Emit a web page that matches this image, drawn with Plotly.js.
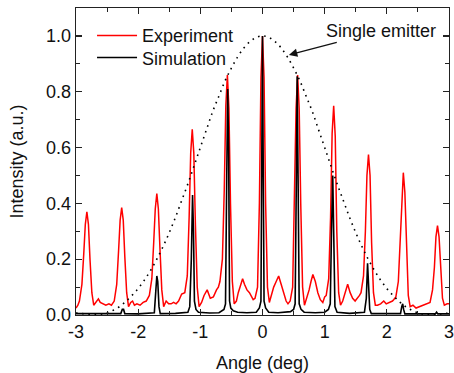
<!DOCTYPE html>
<html>
<head>
<meta charset="utf-8">
<script src="https://cdn.plot.ly/plotly-3.0.1.min.js"></script>
<style>
  html, body { margin: 0; padding: 0; background: #fff; }
  #chart { width: 454px; height: 373px; }
</style>
</head>
<body>
<div id="chart"></div>
<script>
// Measured far-field intensity (red)
const expAngle = [
  -3.00, -2.97,
  -2.945, -2.905, -2.875, -2.85, -2.825, -2.80, -2.775, -2.745, -2.715,
  -2.68, -2.64, -2.61, -2.57, -2.52, -2.47, -2.43,
  -2.385, -2.345, -2.315, -2.29, -2.265, -2.24, -2.215, -2.185, -2.155,
  -2.12, -2.09, -2.06, -2.02, -1.97, -1.92, -1.87,
  -1.82, -1.78, -1.75, -1.725, -1.70, -1.675, -1.65, -1.62, -1.59,
  -1.55, -1.51, -1.47, -1.43, -1.39, -1.35, -1.30,
  -1.25, -1.21, -1.18, -1.155, -1.13, -1.105, -1.08, -1.05, -1.02,
  -0.98, -0.94, -0.89, -0.84, -0.79, -0.74, -0.71,
  -0.685, -0.645, -0.615, -0.59, -0.565, -0.54, -0.515, -0.485, -0.455,
  -0.42, -0.39, -0.35, -0.32, -0.29, -0.25, -0.21, -0.17, -0.15,
  -0.12, -0.08, -0.05, -0.025, 0.00, 0.025, 0.05, 0.08, 0.11,
  0.14, 0.18, 0.22, 0.26, 0.30, 0.34, 0.38, 0.41,
  0.445, 0.485, 0.515, 0.54, 0.565, 0.59, 0.615, 0.645, 0.675,
  0.71, 0.75, 0.78, 0.81, 0.85, 0.89, 0.93, 0.97, 1.00,
  1.025, 1.065, 1.095, 1.12, 1.145, 1.17, 1.195, 1.225, 1.255,
  1.29, 1.33, 1.37, 1.41, 1.45, 1.49, 1.53, 1.56,
  1.585, 1.625, 1.655, 1.68, 1.705, 1.73, 1.755, 1.785, 1.815,
  1.85, 1.90, 1.95, 1.99, 2.04, 2.09, 2.11,
  2.145, 2.185, 2.215, 2.24, 2.265, 2.29, 2.315, 2.345, 2.375,
  2.42, 2.47, 2.53, 2.58, 2.63, 2.66,
  2.695, 2.735, 2.765, 2.79, 2.815, 2.84, 2.865, 2.895, 2.925,
  2.97, 3.00
];
const expIntensity = [
  0.025, 0.035,
  0.05, 0.11, 0.22, 0.325, 0.37, 0.325, 0.20, 0.08, 0.035,
  0.045, 0.058, 0.045, 0.04, 0.035, 0.04, 0.035,
  0.05, 0.11, 0.23, 0.34, 0.385, 0.34, 0.21, 0.08, 0.03,
  0.045, 0.05, 0.035, 0.04, 0.035, 0.045, 0.05,
  0.07, 0.13, 0.26, 0.38, 0.435, 0.38, 0.24, 0.09, 0.03,
  0.05, 0.04, 0.04, 0.045, 0.04, 0.05, 0.075,
  0.08, 0.14, 0.35, 0.58, 0.665, 0.58, 0.33, 0.10, 0.03,
  0.045, 0.07, 0.09, 0.06, 0.065, 0.09, 0.10,
  0.12, 0.20, 0.45, 0.75, 0.86, 0.74, 0.40, 0.12, 0.04,
  0.05, 0.08, 0.11, 0.13, 0.11, 0.09, 0.08, 0.065, 0.055,
  0.06, 0.10, 0.40, 0.85, 1.00, 0.85, 0.40, 0.10, 0.045,
  0.07, 0.10, 0.12, 0.14, 0.11, 0.08, 0.05, 0.04,
  0.05, 0.10, 0.40, 0.74, 0.86, 0.74, 0.40, 0.10, 0.035,
  0.06, 0.09, 0.12, 0.145, 0.12, 0.08, 0.055, 0.045, 0.065,
  0.07, 0.13, 0.35, 0.65, 0.75, 0.64, 0.30, 0.08, 0.035,
  0.05, 0.08, 0.11, 0.08, 0.06, 0.05, 0.06, 0.07,
  0.08, 0.14, 0.30, 0.50, 0.575, 0.50, 0.26, 0.08, 0.035,
  0.035, 0.04, 0.05, 0.04, 0.045, 0.05, 0.055,
  0.065, 0.12, 0.27, 0.44, 0.51, 0.44, 0.24, 0.07, 0.03,
  0.035, 0.025, 0.03, 0.035, 0.04, 0.04,
  0.045, 0.09, 0.17, 0.28, 0.32, 0.28, 0.16, 0.06, 0.035,
  0.04, 0.04
];

// Simulated far-field intensity (black)
const simAngle = [
  -3.00, -2.70, -2.50, -2.28, -2.255, -2.235, -2.215, -2.00, -1.74, -1.72,
  -1.70, -1.685, -1.665, -1.645, -1.40, -1.20, -1.17, -1.145, -1.125, -1.11,
  -1.095, -1.07, -1.03, -0.85, -0.70, -0.62, -0.595, -0.575, -0.56, -0.545,
  -0.53, -0.51, -0.47, -0.40, -0.25, -0.10, -0.05, -0.025, -0.01, 0.00,
  0.01, 0.025, 0.05, 0.10, 0.25, 0.45, 0.50, 0.525, 0.545, 0.558,
  0.572, 0.59, 0.62, 0.67, 0.85, 1.00, 1.06, 1.09, 1.11, 1.13,
  1.145, 1.165, 1.20, 1.40, 1.64, 1.67, 1.69, 1.705, 1.725, 1.75,
  2.00, 2.22, 2.24, 2.255, 2.27, 2.29, 2.55, 2.78, 2.80, 2.82,
  3.00
];
const simIntensity = [
  0.005, 0.004, 0.005, 0.005, 0.02, 0.02, 0.005, 0.004, 0.008, 0.06,
  0.14, 0.12, 0.03, 0.005, 0.006, 0.01, 0.03, 0.20, 0.43, 0.30,
  0.05, 0.02, 0.01, 0.007, 0.008, 0.02, 0.04, 0.50, 0.81, 0.60,
  0.05, 0.025, 0.015, 0.01, 0.008, 0.01, 0.025, 0.05, 0.60, 1.00,
  0.60, 0.05, 0.025, 0.01, 0.008, 0.012, 0.02, 0.04, 0.50, 0.855,
  0.50, 0.04, 0.02, 0.01, 0.008, 0.01, 0.02, 0.04, 0.30, 0.50,
  0.30, 0.03, 0.01, 0.006, 0.01, 0.06, 0.185, 0.13, 0.02, 0.005,
  0.004, 0.005, 0.03, 0.04, 0.02, 0.004, 0.004, 0.004, 0.01, 0.004,
  0.004
];

// Envelope of a single emitter (dotted)
const envAngle = [
  -3.0, -2.9, -2.8, -2.7, -2.6, -2.5, -2.4, -2.3, -2.2, -2.1,
  -2.0, -1.9, -1.8, -1.7, -1.6, -1.5, -1.4, -1.3, -1.2, -1.1,
  -1.0, -0.9, -0.8, -0.7, -0.6, -0.5, -0.4, -0.3, -0.2, -0.1,
  0.0, 0.1, 0.2, 0.3, 0.4, 0.5, 0.6, 0.7, 0.8, 0.9,
  1.0, 1.1, 1.2, 1.3, 1.4, 1.5, 1.6, 1.7, 1.8, 1.9,
  2.0, 2.1, 2.2, 2.3, 2.4, 2.5, 2.6, 2.7, 2.8, 2.9, 3.0
];
const envIntensity = [
  0.007, 0.005, 0.003, 0.002, 0.003, 0.008, 0.017, 0.03, 0.048, 0.07,
  0.095, 0.125, 0.16, 0.20, 0.245, 0.295, 0.35, 0.41, 0.47, 0.535,
  0.60, 0.665, 0.73, 0.785, 0.84, 0.885, 0.925, 0.957, 0.98, 0.995,
  1.00, 0.995, 0.98, 0.957, 0.925, 0.885, 0.84, 0.785, 0.73, 0.665,
  0.60, 0.535, 0.47, 0.41, 0.35, 0.295, 0.245, 0.20, 0.16, 0.125,
  0.095, 0.07, 0.048, 0.03, 0.017, 0.008, 0.003, 0.002, 0.003, 0.005, 0.007
];

const xTickVals = [-3, -2, -1, 0, 1, 2, 3];
const xTickText = ['-3', '-2', '-1', '0', '1', '2', '3'];

const seriesNames = ['Experiment', 'Simulation'];
const envelopeLabel = 'Single emitter';
const xTitle = 'Angle (deg)';
const yTitle = 'Intensity (a.u.)';

const FONT = '"Liberation Sans", Arial, Helvetica, sans-serif';
const INK = '#111';

const traces = [
  {
    x: expAngle, y: expIntensity, name: seriesNames[0],
    type: 'scatter', mode: 'lines', legend: 'legend',
    line: { color: '#ff0000', width: 1.5 }
  },
  {
    x: simAngle, y: simIntensity, name: seriesNames[1],
    type: 'scatter', mode: 'lines', legend: 'legend2',
    line: { color: '#000000', width: 1.6 }
  },
  {
    x: envAngle, y: envIntensity, name: envelopeLabel,
    type: 'scatter', mode: 'lines', showlegend: false,
    line: { color: '#000000', width: 1.6, dash: '1.6px,4.6px', shape: 'spline' }
  }
];

const axisCommon = {
  showgrid: false, zeroline: false,
  showline: true, linecolor: '#222', linewidth: 1.4,
  mirror: 'ticks', ticks: 'inside', ticklen: 6, tickwidth: 1.2, tickcolor: '#222',
  tickfont: { family: FONT, size: 18, color: INK }
};

const legendCommon = {
  xanchor: 'left', yanchor: 'top',
  bgcolor: 'rgba(0,0,0,0)', borderwidth: 0,
  font: { family: FONT, size: 18, color: INK },
  itemwidth: 40
};

const layout = {
  width: 454, height: 373,
  margin: { l: 76, r: 5, t: 8, b: 58 },
  paper_bgcolor: '#fff', plot_bgcolor: '#fff',
  font: { family: FONT, size: 18, color: INK },
  xaxis: Object.assign({}, axisCommon, {
    range: [-3, 3], tickmode: 'array', tickvals: xTickVals, ticktext: xTickText,
    ticklabeloverflow: 'allow',
    minor: { dtick: 0.5, tick0: 0, ticks: 'inside', ticklen: 4, tickcolor: '#222', tickwidth: 1.1 },
    title: { text: xTitle, font: { family: FONT, size: 18, color: INK }, standoff: 15 }
  }),
  yaxis: Object.assign({}, axisCommon, {
    range: [0, 1.1], dtick: 0.2, tick0: 0, tickformat: '.1f',
    minor: { dtick: 0.1, ticks: 'inside', ticklen: 4, tickcolor: '#222', tickwidth: 1.1 },
    title: { text: yTitle, font: { family: FONT, size: 18, color: INK }, standoff: 17 }
  }),
  showlegend: true,
  legend: Object.assign({}, legendCommon, { x: 0.043, y: 0.97 }),
  legend2: Object.assign({}, legendCommon, { x: 0.043, y: 0.898 }),
  annotations: [{
    x: 0.424, y: 0.932, xref: 'x', yref: 'y',
    text: envelopeLabel, showarrow: true,
    ax: 92, ay: -24, axref: 'pixel', ayref: 'pixel',
    arrowhead: 2, arrowsize: 1.3, arrowwidth: 1.3, arrowcolor: '#111',
    font: { family: FONT, size: 18, color: INK }
  }]
};

Plotly.newPlot('chart', traces, layout, { staticPlot: true, displayModeBar: false });
</script>
</body>
</html>
